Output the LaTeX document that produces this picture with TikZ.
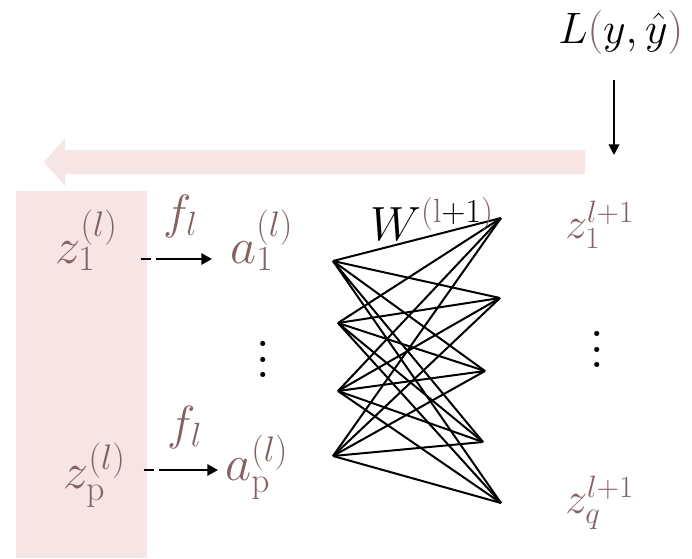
\documentclass[tikz,border=0pt]{standalone}
\usepackage{fix-cm}
\usepackage{graphicx}
\usetikzlibrary{arrows.meta, positioning}
\definecolor{mauve}{RGB}{133,98,98}
\definecolor{blush}{RGB}{247,228,228}

\begin{document}
\begin{tikzpicture}[x=0.75pt, y=-0.75pt,
    big/.style={text=mauve, inner sep=0pt, anchor=base west, font=\fontsize{38}{44}\selectfont},
    small/.style={text=mauve, inner sep=0pt, anchor=base west, font=\fontsize{33}{38}\selectfont},
    dots/.style={inner sep=0pt, font=\fontsize{16}{16}\selectfont},
    farrow/.style={-{Triangle[length=8pt, width=8.5pt]}, line width=1.5pt, dash pattern=on 7.5pt off 4pt on 300pt},
    lossarrow/.style={-{Triangle[length=8pt, width=8pt]}, line width=1.3pt},
    wire/.style={line width=1.5pt, draw=black}
]
    \useasboundingbox (0,0) rectangle (692,558);

    % backward pass band and arrow
    \fill[blush] (16,191) rectangle (147,558);
    \fill[blush] (585,150) -- (65,150) -- (65,138) -- (44,162) -- (65,186) -- (65,174) -- (585,174) -- cycle;

    % loss
    \node[small, text=black] (loss) at (558,43) {$L\textcolor{mauve}{(}y,\hat{y}\textcolor{mauve}{)}$};
    \coordinate (lossend) at (614,155);
    \draw[lossarrow] (lossend |- 0,80) -- (lossend);

    % layer l
    \node[big] (z1) at (55,263) {$z_1^{(l)}$};
    \node[big] (a1) at (230,263) {$a_1^{(l)}$};
    \node[big] (zp) at (63,488) {$z_{\mathrm{p}}^{(l)}$};
    \node[big] (ap) at (225,480) {$a_{\mathrm{p}}^{(l)}$};
    \node[dots] (vl) at (263,348) {\scalebox{2.9}{$\vdots$}};

    \draw[farrow] ([shift={(23,-4)}]z1.base east) -- node[above=15pt, xshift=3pt, inner sep=0pt, text=mauve, font=\fontsize{36}{42}\selectfont] (f1) {$f_l$} ([shift={(-18,-4)}]a1.base west);
    \draw[farrow] ([shift={(18,-18)}]zp.base east) -- node[above=15pt, xshift=3pt, inner sep=0pt, text=mauve, font=\fontsize{36}{42}\selectfont] (f2) {$f_l$} ([shift={(-7,-10)}]ap.base west);

    % weights
    \coordinate (h1) at (333,261);
    \coordinate (h2) at (338,323);
    \coordinate (h3) at (338,391);
    \coordinate (h4) at (333,456);
    \coordinate (o1) at (501,218);
    \coordinate (o2) at (500,298);
    \coordinate (o3) at (485,371);
    \coordinate (o4) at (483,442);
    \coordinate (o5) at (501,503);
    \foreach \i in {1,...,4}
        \foreach \j in {1,...,5}
            \draw[wire] (h\i) -- (o\j);
    \node[big, text=black, font=\fontsize{36}{42}\selectfont] (w) at (370,240) {$W^{\textcolor{mauve}{(\mathrm{l}}+1\textcolor{mauve}{)}}$};

    % layer l+1
    \node[small] (zr1) at (565,238) {$z_1^{l+1}$};
    \node[small] (zrq) at (565,513) {$z_q^{l+1}$};
    \node[dots] (vr) at (597,338) {\scalebox{2.9}{$\vdots$}};
\end{tikzpicture}
\end{document}
